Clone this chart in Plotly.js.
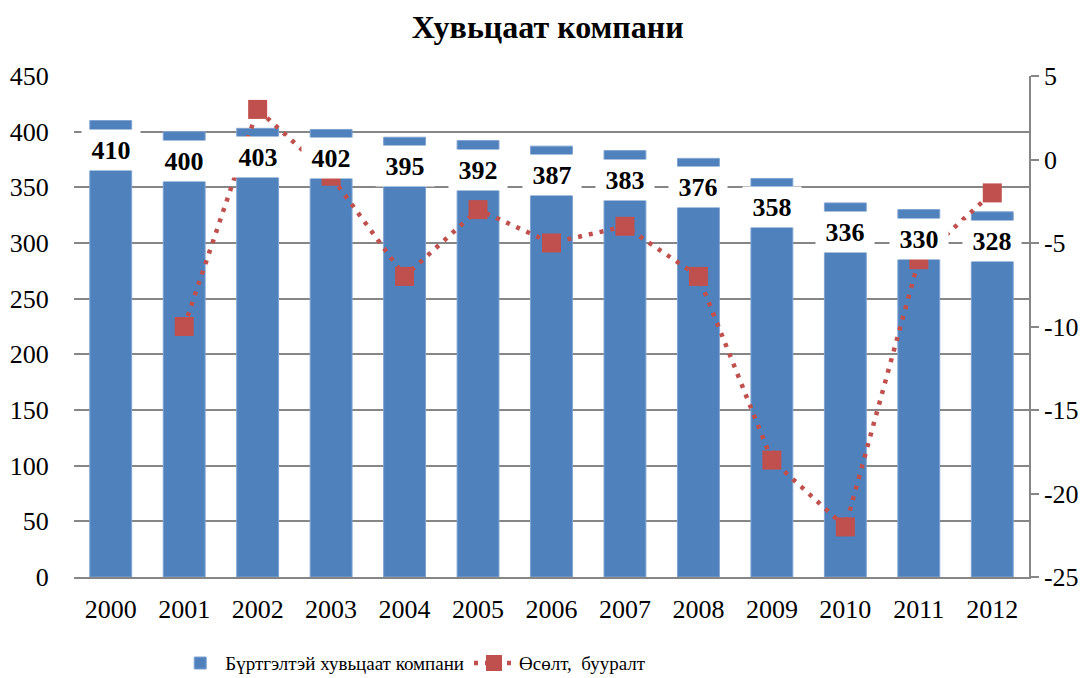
<!DOCTYPE html>
<html>
<head>
<meta charset="utf-8">
<script src="https://cdn.plot.ly/plotly-3.0.1.min.js"></script>
<style>html,body{margin:0;padding:0;background:#fff;}#chart{width:1091px;height:678px;}</style>
</head>
<body>
<div id="chart"></div>
<script>
const years = [2000, 2001, 2002, 2003, 2004, 2005, 2006, 2007, 2008, 2009, 2010, 2011, 2012];
const companies = [410, 400, 403, 402, 395, 392, 387, 383, 376, 358, 336, 330, 328];
const growth = [null, -10, 3, -1, -7, -3, -5, -4, -7, -18, -22, -6, -2];
const rightTickVals = [-25, -20, -15, -10, -5, 0, 5];
const rightTickText = ['-25', '-20', '-15', '-10', '-5', '0', '5'];
const barName = 'Бүртгэлтэй хувьцаат компани';
const lineName = 'Өсөлт,  бууралт';
const titleText = 'Хувьцаат компани';

const serif = 'Liberation Serif, serif';
const grey = '#868686';

const traces = [
  {
    type: 'bar', x: years, y: companies, name: barName, width: 0.57,
    marker: {color: '#4F81BD', line: {color: '#7FA3D1', width: 1}}
  },
  {
    type: 'scatter', mode: 'lines+markers', x: years, y: growth, yaxis: 'y2', name: lineName,
    line: {color: '#C0504D', width: 4.5, dash: '4px,7px'},
    marker: {symbol: 'square', size: 19, color: '#C0504D'}
  }
];

const annotations = years.map((yr, i) => ({
  x: yr, y: companies[i], xref: 'x', yref: 'y',
  text: '<b>' + companies[i] + '</b>', showarrow: false,
  yanchor: 'top', yshift: -8, width: 56, height: 38,
  bgcolor: '#ffffff',
  font: {family: serif, size: 26, color: '#000'}
}));

const layout = {
  width: 1091, height: 678,
  font: {family: serif, size: 20, color: '#000'},
  margin: {l: 74, r: 62, t: 76, b: 101, autoexpand: false},
  paper_bgcolor: '#fff', plot_bgcolor: '#fff',
  title: {text: '<b>' + titleText + '</b>', x: 0.502, xanchor: 'center', y: 0.96, yanchor: 'middle',
          font: {family: serif, size: 32, color: '#000'}},
  showlegend: true,
  legend: {orientation: 'h', x: 0.106, xanchor: 'left', y: -0.172, yanchor: 'middle',
           font: {family: serif, size: 19, color: '#000'}, itemwidth: 40},
  xaxis: {type: 'linear', range: [1999.5, 2012.5], dtick: 1, tick0: 2000, showline: true, linecolor: grey, linewidth: 1.5,
          ticks: 'outside', ticklen: 8, tickcolor: 'rgba(0,0,0,0)',
          tickfont: {family: serif, size: 26, color: '#000'}, showgrid: false, zeroline: false},
  yaxis: {range: [0, 450], dtick: 50, tick0: 0, showgrid: true, gridcolor: grey, gridwidth: 1.5,
          zeroline: false, showline: false, ticks: 'outside', ticklen: 19, tickcolor: 'rgba(0,0,0,0)',
          tickfont: {family: serif, size: 26, color: '#000'}},
  yaxis2: {range: [-25, 5], tickmode: 'array', tickvals: rightTickVals, ticktext: rightTickText,
           overlaying: 'y', side: 'right', showgrid: false,
           zeroline: false, showline: true, linecolor: grey, linewidth: 1.5,
           ticks: 'outside', ticklen: 8, tickcolor: grey, tickwidth: 1.5,
           tickfont: {family: serif, size: 26, color: '#000'}},
  annotations: annotations
};

Plotly.newPlot('chart', traces, layout, {displayModeBar: false});
</script>
</body>
</html>
